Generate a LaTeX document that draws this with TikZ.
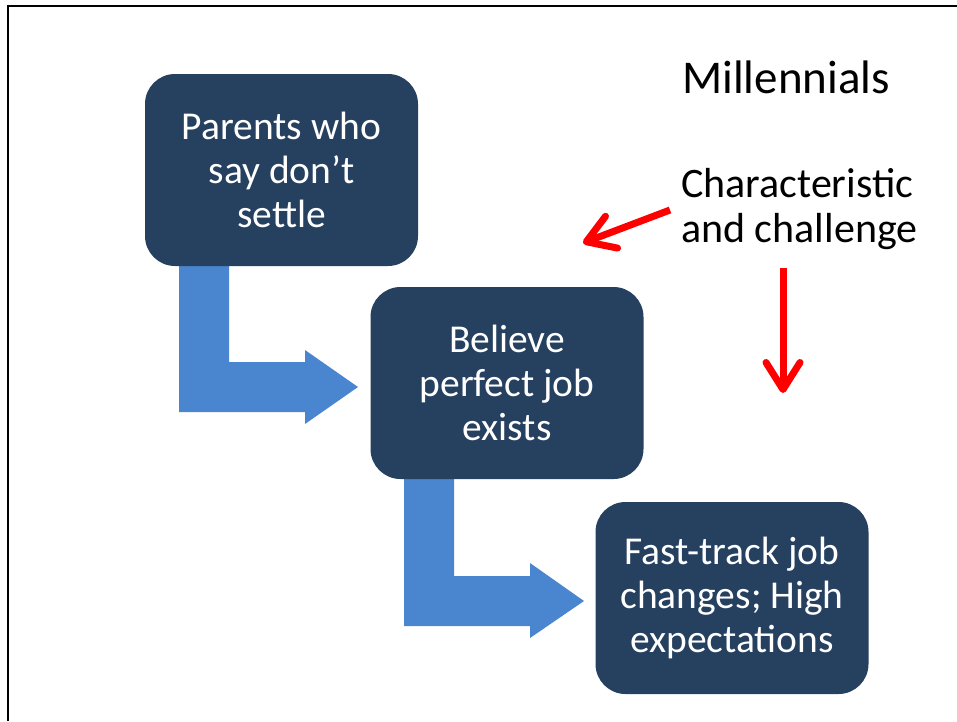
\documentclass[tikz,border=0pt]{standalone}
\usepackage{fontspec}
\setmainfont{Carlito}
\usetikzlibrary{arrows.meta}
\definecolor{boxnavy}{RGB}{38,64,96}
\definecolor{flowblue}{RGB}{74,134,208}
\definecolor{callred}{RGB}{255,0,0}
\tikzset{
  stepbox/.style={fill=boxnavy, rounded corners=30pt, minimum width=273pt, minimum height=192pt,
    inner sep=0pt, text=white, align=center, font=\fontsize{39.5}{44}\selectfont},
  flowarrow/.style={fill=flowblue, draw=none},
  callarrow/.style={draw=callred, line width=7pt, -{Straight Barb[length=27pt,width=34pt,round]}},
  titletext/.style={font=\fontsize{47}{56}\selectfont, inner sep=0pt, anchor=base west},
  notetext/.style={font=\fontsize{42}{45}\selectfont, inner sep=0pt, anchor=north west, align=left},
}
\begin{document}
\begin{tikzpicture}[x=1pt,y=-1pt]
\useasboundingbox (0,0) rectangle (957,721);
\fill[white] (0,0) rectangle (957,721);
\draw[line width=2pt] (8.3,721) -- (8.3,5.5) -- (957,5.5);

% blue L-shaped arrows (drawn beneath the boxes)
\fill[flowarrow] (179,262) -- (229,262) -- (229,362) -- (305,362) -- (305,350) -- (358,387)
  -- (305,424) -- (305,412) -- (179,412) -- cycle;
\fill[flowarrow] (404,475) -- (454,475) -- (454,576) -- (530,576) -- (530,563) -- (584,601)
  -- (530,638) -- (530,626) -- (404,626) -- cycle;

% boxes
\node[stepbox] (parents) at (281.5,170) {Parents who\\say don’t\\settle};
\node[stepbox] (believe) at (507,383) {Believe\\perfect job\\exists};
\node[stepbox] (fast) at (732,598) {Fast-track job\\changes; High\\expectations};

% texts
\node[titletext] (title) at (682,93) {Millennials};
\node[notetext] (note) at (681,168) {Characteristic\\and challenge};

% red arrows
\coordinate (r1s) at (670,210);
\coordinate (r1e) at (583,243);
\coordinate (r2s) at (783,268);
\coordinate (r2e) at (783,393);
\draw[callarrow] (r1s) -- (r1e);
\draw[callarrow] (r2s) -- (r2e);
\end{tikzpicture}
\end{document}
